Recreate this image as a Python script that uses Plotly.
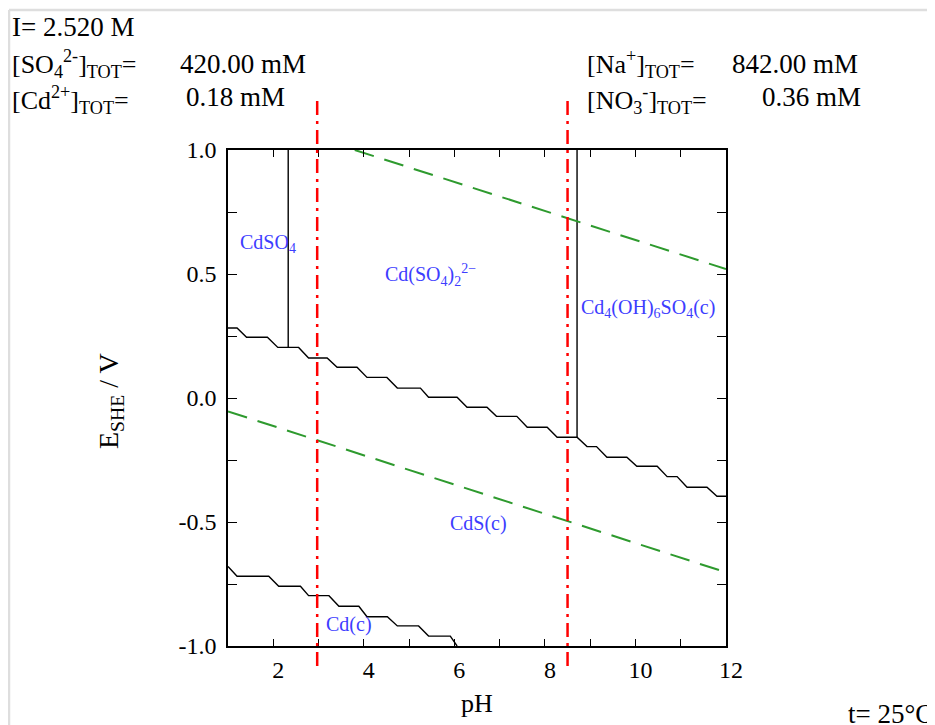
import plotly.graph_objects as go

# ---------------- data ----------------
# upper black staircase boundary (Cd(SO4)2 2- / CdSO4 / Cd4(OH)6SO4(c)  vs  CdS(c))
upper_ph = [1.00, 1.20, 1.41, 1.87, 2.10, 2.56, 2.78, 3.19, 3.41, 3.85, 4.07, 4.51,
            4.74, 5.25, 5.43, 6.06, 6.28, 6.72, 6.93, 7.38, 7.61, 8.05, 8.27, 8.71,
            8.93, 9.14, 9.37, 9.81, 10.03, 10.48, 10.70, 10.92, 11.14, 11.58, 11.80, 12.00]
upper_E = [0.282, 0.282, 0.245, 0.245, 0.204, 0.204, 0.161, 0.161, 0.124, 0.124, 0.083, 0.083,
           0.040, 0.040, 0.003, 0.003, -0.037, -0.037, -0.074, -0.074, -0.118, -0.118, -0.158, -0.158,
           -0.196, -0.196, -0.239, -0.239, -0.275, -0.275, -0.317, -0.317, -0.360, -0.360, -0.396, -0.396]

# lower black staircase boundary (CdS(c) vs Cd(c))
lower_ph = [1.00, 1.20, 1.90, 2.12, 2.60, 2.78, 3.23, 3.45, 3.89, 4.07, 4.52, 4.74, 5.21, 5.43, 5.91, 6.06]
lower_E = [-0.679, -0.719, -0.719, -0.759, -0.759, -0.797, -0.797, -0.840, -0.840, -0.882, -0.882,
           -0.919, -0.919, -0.960, -0.960, -1.000]

# vertical black boundaries
vert1_ph = [2.33, 2.33]
vert1_E = [1.0, 0.204]
vert2_ph = [8.71, 8.71]
vert2_E = [1.0, -0.158]

# water stability lines (green dashed)
o2_ph = [3.80, 12.0]
o2_E = [1.0, 0.52]
h2_ph = [1.0, 12.0]
h2_E = [-0.054, -0.703]

# red dash-dot verticals (pH)
red_ph = [2.97, 8.50]

# species labels
species_text = ["CdSO<sub>4</sub>", "Cd(SO<sub>4</sub>)<sub>2</sub><sup>2−</sup>",
                "Cd<sub>4</sub>(OH)<sub>6</sub>SO<sub>4</sub>(c)", "CdS(c)", "Cd(c)"]
species_ph = [1.22, 4.43, 8.76, 5.87, 3.11]
species_E = [0.625, 0.495, 0.36, -0.505, -0.915]

# axis ticks
x_tickvals = list(range(1, 13))
x_ticktext = ["", "2", "", "4", "", "6", "", "8", "", "10", "", "12"]
y_tickvals = [-1.0, -0.75, -0.5, -0.25, 0.0, 0.25, 0.5, 0.75, 1.0]
y_ticktext = ["-1.0", "", "-0.5", "", "0.0", "", "0.5", "", "1.0"]

# ---------------- layout geometry ----------------
OFF = 8                      # page offset of the figure (body margin)
FIG_W, FIG_H = 935, 725
PL, PT, PW, PH = 228, 150, 498, 496   # plot area in page pixels
L, T = PL - OFF, PT - OFF
R = FIG_W - L - PW
B = FIG_H - T - PH


def px2x(px):
    return (px - PL) / PW


def px2y(py):
    return (PT + PH - py) / PH


SERIF = "Liberation Serif, Times New Roman, serif"
BLUE = "#3d3dff"
GREEN = "#2e9a2e"

fig = go.Figure()

line_black = dict(color="black", width=1.4)
fig.add_trace(go.Scatter(x=upper_ph, y=upper_E, mode="lines", line=line_black, hoverinfo="skip"))
fig.add_trace(go.Scatter(x=lower_ph, y=lower_E, mode="lines", line=line_black, hoverinfo="skip"))
fig.add_trace(go.Scatter(x=vert1_ph, y=vert1_E, mode="lines", line=line_black, hoverinfo="skip"))
fig.add_trace(go.Scatter(x=vert2_ph, y=vert2_E, mode="lines", line=line_black, hoverinfo="skip"))

line_green = dict(color=GREEN, width=2, dash="20px,11px")
fig.add_trace(go.Scatter(x=o2_ph, y=o2_E, mode="lines", line=line_green, hoverinfo="skip"))
fig.add_trace(go.Scatter(x=h2_ph, y=h2_E, mode="lines", line=line_green, hoverinfo="skip"))

shapes = []
for p in red_ph:
    shapes.append(dict(type="line", xref="x", yref="paper", x0=p, x1=p,
                       y0=px2y(666), y1=px2y(96),
                       line=dict(color="#ff0000", width=2.5, dash="14px,6px,3px,6px")))
# light grey outer frame (top and left edges)
frame = dict(color="#dedede", width=2.5)
shapes.append(dict(type="line", xref="paper", yref="paper", x0=px2x(9), x1=px2x(1000),
                   y0=px2y(10), y1=px2y(10), line=frame, layer="below"))
shapes.append(dict(type="line", xref="paper", yref="paper", x0=px2x(9), x1=px2x(9),
                   y0=px2y(10), y1=px2y(800), line=frame, layer="below"))

annotations = []
for t, xv, yv in zip(species_text, species_ph, species_E):
    annotations.append(dict(text=t, x=xv, y=yv, xref="x", yref="y", xanchor="left",
                            yanchor="middle", showarrow=False,
                            font=dict(family=SERIF, size=20, color=BLUE)))


def txt(text, px, py, size=26, anchor="left"):
    annotations.append(dict(text=text, x=px2x(px), y=px2y(py), xref="paper", yref="paper",
                            xanchor=anchor, yanchor="middle", showarrow=False,
                            font=dict(family=SERIF, size=size, color="black")))


txt("I= 2.520 M", 10, 27, size=27)
txt("[SO<sub>4</sub><sup>2-</sup>]<sub>TOT</sub>=", 10, 64)
txt("420.00 mM", 178, 64, size=27)
txt("[Cd<sup>2+</sup>]<sub>TOT</sub>=", 10, 100)
txt("0.18 mM", 184, 97, size=27)
txt("[Na<sup>+</sup>]<sub>TOT</sub>=", 585, 64)
txt("842.00 mM", 730, 64, size=27)
txt("[NO<sub>3</sub><sup>-</sup>]<sub>TOT</sub>=", 585, 100)
txt("0.36 mM", 760, 97, size=27)
txt("t= 25°C", 846, 714, size=27)
txt("pH", 477, 703, size=26, anchor="center")

annotations.append(dict(text="E<sub>SHE</sub> / V", x=px2x(110), y=px2y(401), xref="paper",
                        yref="paper", xanchor="center", yanchor="middle", textangle=-90,
                        showarrow=False, font=dict(family=SERIF, size=28, color="black")))

axis_common = dict(showline=True, linecolor="black", linewidth=1.5, mirror="ticks",
                   ticks="inside", tickcolor="black", tickwidth=1.2, showgrid=False,
                   zeroline=False, tickfont=dict(family=SERIF, size=24, color="black"))

fig.update_layout(
    width=FIG_W, height=FIG_H,
    margin=dict(l=L, r=R, t=T, b=B, pad=0),
    paper_bgcolor="white", plot_bgcolor="white",
    showlegend=False,
    xaxis=dict(range=[1, 12], tickmode="array", tickvals=x_tickvals, ticktext=x_ticktext,
               ticklen=7, ticklabelstandoff=1, ticklabelshift=5, **axis_common),
    yaxis=dict(range=[-1, 1], tickmode="array", tickvals=y_tickvals, ticktext=y_ticktext,
               ticklen=9, ticklabelstandoff=5, **axis_common),
    shapes=shapes,
    annotations=annotations,
)

fig.write_html("out.html", post_script="document.documentElement.style.overflow='hidden';"
                                       "document.body.style.overflow='hidden';")
